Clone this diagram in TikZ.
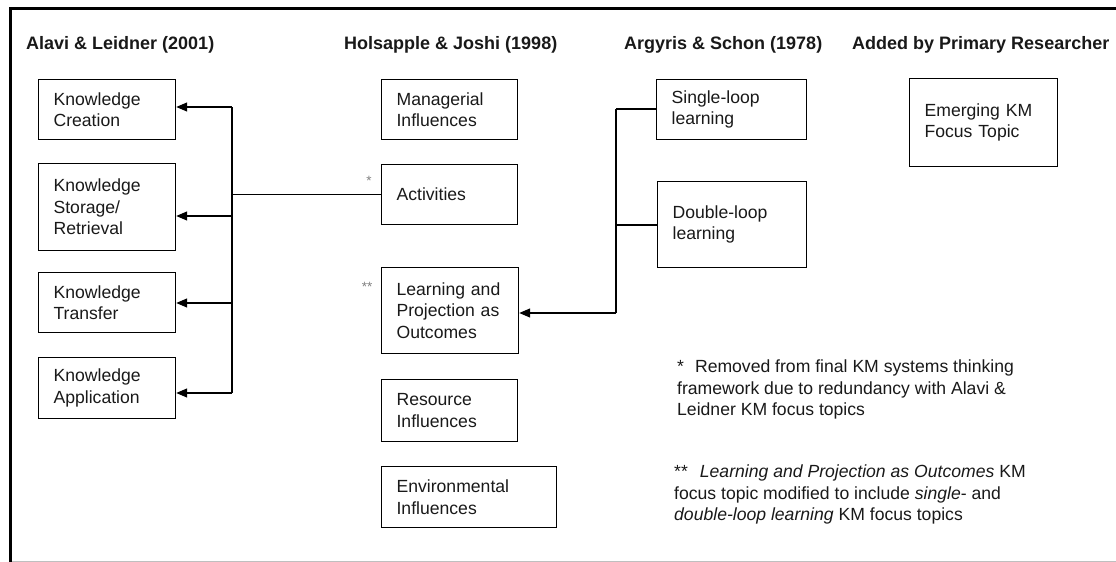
\documentclass[tikz,border=0pt]{standalone}
\usepackage{fontspec}
\setmainfont{Liberation Sans}
\usetikzlibrary{arrows.meta}
\begin{document}
\begin{tikzpicture}[x=1pt,y=-1pt,
  box/.style={draw=black, line width=1.2pt, rectangle, inner xsep=15pt, inner ysep=0pt,
    anchor=north west, align=left, text=black!90, font=\fontsize{17.6}{21.5}\selectfont},
  head/.style={anchor=base west, inner sep=0pt, text=black!90, font=\fontsize{18}{22}\selectfont\bfseries},
  conn/.style={line width=1.2pt},
  arr/.style={conn, -{Triangle[length=11pt,width=9pt]}},
  note/.style={anchor=west, inner sep=0pt, align=left, text=black!90, font=\fontsize{17.6}{21.5}\selectfont},
  starlbl/.style={inner sep=0pt, text=gray, font=\fontsize{13.5}{14}\selectfont}
]
\useasboundingbox (0,0) rectangle (1116,562);
% frame
\draw[line width=2.8pt] (1116,8.7) -- (10.8,8.7) -- (10.8,562);
\draw[black!25, line width=1pt] (12,561.5) -- (1116,561.5);

% headings
\node[head] (h1) at (26,49) {Alavi \& Leidner (2001)};
\node[head] (h2) at (344,49) {Holsapple \& Joshi (1998)};
\node[head] (h3) at (624,49) {Argyris \& Schon (1978)};
\node[head] (h4) at (852,49) {Added by Primary Researcher};

% left column
\node[box, text width=107pt, minimum height=60pt] (kc) at (38,79) {Knowledge\\Creation};
\node[box, text width=107pt, minimum height=87pt] (ks) at (38,163) {Knowledge\\Storage/\\Retrieval};
\node[box, text width=107pt, minimum height=60pt] (kt) at (38,272) {Knowledge\\Transfer};
\node[box, text width=107pt, minimum height=61pt] (ka) at (38,357) {Knowledge\\Application};

% middle column
\node[box, text width=106pt, minimum height=60pt] (mi) at (381,79) {Managerial\\Influences};
\node[box, text width=106pt, minimum height=60pt] (act) at (381,164) {Activities};
\node[box, text width=107pt, minimum height=86pt] (lp) at (381,267) {Learning and\\Projection as\\Outcomes};
\node[box, text width=106pt, minimum height=62pt] (ri) at (381,379) {Resource\\Influences};
\node[box, text width=145pt, minimum height=61pt] (ei) at (381,466) {Environmental\\Influences};

% right columns
\node[box, text width=120pt, minimum height=60pt] (sl) at (656,79) {Single-loop\\learning};
\node[box, text width=119pt, minimum height=86pt] (dl) at (657,181) {Double-loop\\learning};
\node[box, text width=118pt, minimum height=88pt] (em) at (909,78) {Emerging KM\\Focus Topic};

% star labels
\node[starlbl] (s1) at (369,181) {*};
\node[starlbl] (s2) at (367,287) {**};

% left bus
\coordinate (b1) at (232,107);
\coordinate (b2) at (232,216);
\coordinate (b3) at (232,303);
\coordinate (b4) at (232,393);
\coordinate (ba) at (232,194);
\draw[conn] (b1) -- (b4);
\draw[arr] (b1) -- (b1 -| kc.east);
\draw[arr] (b2) -- (b2 -| ks.east);
\draw[arr] (b3) -- (b3 -| kt.east);
\draw[arr] (b4) -- (b4 -| ka.east);
\draw[conn] (act.west) -- (act.west -| ba);

% right bus
\coordinate (r1) at (616,109);
\coordinate (r2) at (616,225);
\coordinate (r3) at (616,313);
\draw[conn] (r1) -- (r3);
\draw[conn] (r1) -- (r1 -| sl.west);
\draw[conn] (r2) -- (r2 -| dl.west);
\draw[arr] (r3) -- (r3 -| lp.east);

% notes
\node[note] (n1) at (677,389.5) {*\hspace{11pt}Removed from final KM systems thinking\\framework due to redundancy with Alavi \&\\Leidner KM focus topics};
\node[note] (n2) at (674,494.5) {**\hspace{12pt}\textit{Learning and Projection as Outcomes} KM\\focus topic modified to include \textit{single}- and\\\textit{double-loop learning} KM focus topics};
\end{tikzpicture}
\end{document}
